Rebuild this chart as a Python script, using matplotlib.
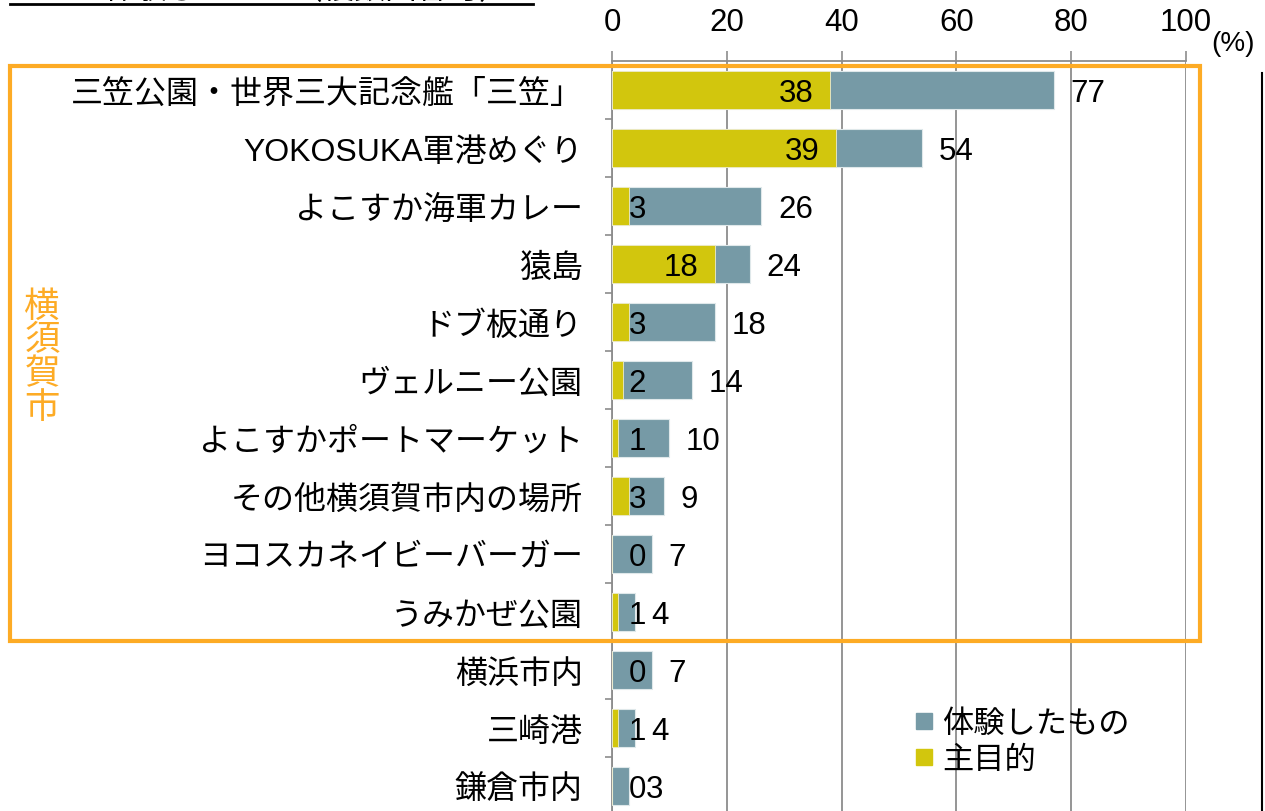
import matplotlib
matplotlib.use("Agg")
import matplotlib.pyplot as plt
from matplotlib.patches import Rectangle
from matplotlib.lines import Line2D
from matplotlib.transforms import blended_transform_factory

plt.rcParams['font.family'] = ['Liberation Sans', 'Noto Sans CJK JP']

# データ
places = ["三笠公園・世界三大記念艦「三笠」", "YOKOSUKA軍港めぐり", "よこすか海軍カレー", "猿島",
          "ドブ板通り", "ヴェルニー公園", "よこすかポートマーケット", "その他横須賀市内の場所",
          "ヨコスカネイビーバーガー", "うみかぜ公園", "横浜市内", "三崎港", "鎌倉市内"]
experienced = [77, 54, 26, 24, 18, 14, 10, 9, 7, 4, 7, 4, 3]
main_purpose = [38, 39, 3, 18, 3, 2, 1, 3, 0, 1, 0, 1, 0]
n_yokosuka = 10  # 横須賀市内の項目数
x_ticks = [0, 20, 40, 60, 80, 100]

C_GREY = '#769aa6'
C_YELLOW = '#d2c60d'
C_ORANGE = '#fdab25'
C_GRID = '#8c8c8c'
FS = 22.5

fig = plt.figure(figsize=(12.65, 8.12), dpi=100)
ax = fig.add_axes([612 / 1265, -4 / 812, 574 / 1265, 754 / 812])

y = list(range(len(places)))
ax.barh(y, experienced, height=0.66, color=C_GREY, edgecolor='#dfe8ea', linewidth=0.8, zorder=3,
        label='体験したもの')
ax.barh(y, main_purpose, height=0.66, color=C_YELLOW, edgecolor='#eeeccc', linewidth=0.6, zorder=4,
        label='主目的')

# ラベル
for i, (tot, mp) in enumerate(zip(experienced, main_purpose)):
    ax.text(tot + 2.9, i, str(tot), ha='left', va='center_baseline', fontsize=FS, zorder=6)
    if mp >= 6:
        ax.text(mp - 2.9, i, str(mp), ha='right', va='center_baseline', fontsize=FS, zorder=6)
    else:
        ax.text(4.4, i, str(mp), ha='center', va='center_baseline', fontsize=FS, zorder=6)

ax.set_xlim(0, 100)
ax.set_ylim(len(places) - 0.5, -0.5)
ax.xaxis.tick_top()
ax.set_xticks(x_ticks)
ax.tick_params(axis='x', length=7, width=1.2, color=C_GRID, labelsize=FS, pad=10)
ax.set_yticks(y)
ax.set_yticklabels(places, fontsize=23)
ax.set_yticks([k + 0.5 for k in range(len(places) - 1)], minor=True)
ax.tick_params(axis='y', which='major', length=0, pad=21)
ax.tick_params(axis='y', which='minor', length=5, width=1.2, color=C_GRID)
ax.grid(axis='x', color=C_GRID, linewidth=1.3, zorder=1)
ax.set_axisbelow(True)
for side in ['right', 'bottom']:
    ax.spines[side].set_visible(False)
for side in ['top', 'left']:
    ax.spines[side].set_color(C_GRID)
    ax.spines[side].set_linewidth(1.3)

fig.text(1211 / 1265, 1 - 44 / 812, '(%)', fontsize=20, ha='left', va='center')

# 横須賀市の枠
tr = blended_transform_factory(fig.transFigure, ax.transData)
rect = Rectangle((10 / 1265, -0.42), 1190 / 1265, n_yokosuka - 0.08, transform=tr,
                 fill=False, edgecolor=C_ORANGE, linewidth=3, clip_on=False, zorder=10)
fig.add_artist(rect)
ax.text(42 / 1265, 4.6, '\n'.join('横須賀市'), transform=tr, color=C_ORANGE, fontsize=25.5,
        ha='center', va='center', linespacing=1.02)

# 凡例
handles = [Line2D([], [], marker='s', linestyle='none', color=C_GREY, markersize=12),
           Line2D([], [], marker='s', linestyle='none', color=C_YELLOW, markersize=12)]
fig.legend(handles, ['体験したもの', '主目的'], loc='upper left',
           bbox_to_anchor=(897 / 1265, 1 - 694 / 812), frameon=False, fontsize=FS,
           handlelength=0.7, handletextpad=0.25, labelspacing=0.2, borderpad=0)

# 上部の見出し（上端で切れている）
fig.text(104 / 1265, 1 + 9 / 812, '体験したこと（複数回答可）', fontsize=FS, ha='left', va='center')
fig.add_artist(Line2D([10 / 1265, 533 / 1265], [1 - 5 / 812] * 2, color='black', linewidth=2))

# 右端の別グラフの軸
fig.add_artist(Line2D([1262 / 1265] * 2, [0, 1 - 74 / 812], color='black', linewidth=1.5))

fig.savefig('out.png', dpi=100)
